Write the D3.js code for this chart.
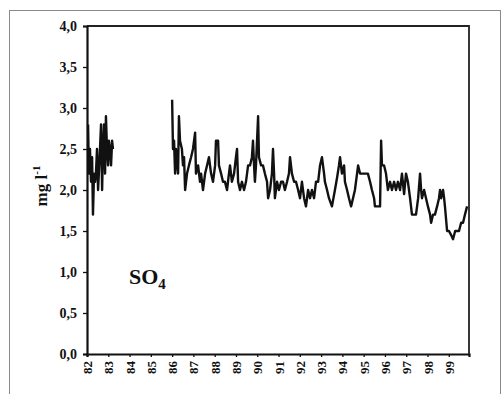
<!DOCTYPE html>
<html><head><meta charset="utf-8">
<script src="https://cdn.jsdelivr.net/npm/d3@7"></script>
<style>
html,body{margin:0;padding:0;background:#fff;}
svg{display:block;}
text{font-family:"Liberation Serif","Times New Roman",serif;font-weight:bold;fill:#111;}
</style></head>
<body>
<svg id="chart" width="502" height="394"></svg>
<script>
// ---- data ----
const yTicks = [0, 0.5, 1.0, 1.5, 2.0, 2.5, 3.0, 3.5, 4.0];
const xTickLabels = ["82","83","84","85","86","87","88","89","90","91","92","93","94","95","96","97","98","99"];
const seriesName = "SO";
const seriesSub = "4";

const years1 = [82.05,82.09,82.14,82.19,82.24,82.28,82.33,82.38,82.42,82.47,82.52,82.61,82.66,82.71,82.75,82.80,82.85,82.89,82.94,82.99,83.03,83.08,83.13,83.18,83.22];
const values1 = [2.8,2.2,2.5,2.1,2.4,1.7,2.2,2.1,2.2,2.5,2.0,2.5,2.8,2.0,2.5,2.8,2.2,2.9,2.5,2.3,2.6,2.5,2.3,2.6,2.5];

const years2 = [86.00,86.04,86.09,86.14,86.18,86.28,86.32,86.37,86.46,86.51,86.56,86.61,86.70,86.79,86.89,86.98,
87.08,87.12,87.22,87.31,87.36,87.45,87.55,87.64,87.73,87.83,87.92,
88.02,88.06,88.16,88.20,88.30,88.39,88.48,88.58,88.67,88.72,88.81,88.91,
89.00,89.05,89.10,89.19,89.28,89.38,89.47,89.57,89.66,89.75,89.80,89.85,89.89,89.94,
90.04,90.08,90.18,90.27,90.36,90.46,90.51,90.60,90.69,90.74,90.79,90.83,90.93,
91.02,91.12,91.21,91.30,91.40,91.49,91.54,91.63,91.73,91.82,91.92,
92.01,92.10,92.20,92.29,92.39,92.48,92.57,92.67,92.76,92.86,92.95,
93.04,93.14,93.18,93.28,93.37,93.51,93.65,93.75,93.84,93.89,93.98,
94.08,94.12,94.22,94.31,94.41,94.50,94.59,94.69,94.74,94.83,94.97,
95.11,95.20,95.30,95.39,95.49,95.53,95.63,95.72,95.77,95.82,95.86,95.96,
96.05,96.14,96.24,96.33,96.43,96.52,96.61,96.71,96.80,96.90,96.99,
97.08,97.18,97.27,97.37,97.46,97.56,97.65,97.70,97.74,97.84,97.93,
98.02,98.12,98.17,98.26,98.35,98.45,98.54,98.59,98.64,98.73,98.78,98.82,98.92,
99.01,99.11,99.20,99.30,99.39,99.48,99.58,99.67,99.76,99.86];
const values2 = [3.1,2.5,2.6,2.2,2.5,2.2,2.9,2.6,2.5,2.3,2.4,2.0,2.2,2.3,2.4,2.5,
2.7,2.2,2.3,2.1,2.2,2.0,2.2,2.3,2.4,2.2,2.1,
2.3,2.6,2.6,2.3,2.2,2.1,2.1,2.0,2.2,2.3,2.1,2.2,
2.4,2.5,2.1,2.0,2.1,2.0,2.1,2.3,2.3,2.4,2.6,2.3,2.1,2.3,
2.9,2.4,2.3,2.3,2.2,2.1,1.9,2.0,2.2,2.5,2.2,1.9,2.1,
2.0,2.1,2.1,2.0,2.1,2.2,2.4,2.2,2.1,2.1,2.0,
1.9,2.1,1.9,1.8,2.0,1.9,2.0,1.9,2.1,2.1,2.3,
2.4,2.2,2.1,2.0,1.9,1.8,2.0,2.15,2.3,2.4,2.2,
2.3,2.1,2.0,1.9,1.8,1.9,2.0,2.2,2.3,2.2,2.2,
2.2,2.2,2.1,2.0,1.9,1.8,1.8,1.8,1.8,2.6,2.3,2.3,
2.2,2.0,2.1,2.0,2.1,2.0,2.1,2.0,2.2,1.95,2.2,
2.1,1.9,1.7,1.7,1.7,1.9,2.2,2.0,1.9,2.0,1.9,
1.8,1.7,1.6,1.7,1.7,1.8,1.9,2.0,1.9,2.0,1.9,1.8,1.5,
1.5,1.45,1.4,1.5,1.5,1.5,1.6,1.6,1.7,1.8];

// ---- layout ----
const svg = d3.select("#chart");
const mLeft = 87, mRight = 469, mTop = 26, mBottom = 354;

const x = d3.scaleLinear().domain([82, 99.95]).range([mLeft, mRight]);
const y = d3.scaleLinear().domain([0, 4]).range([mBottom, mTop]);

// outer frame
svg.append("rect").attr("x", 9.5).attr("y", 10.5).attr("width", 491).attr("height", 390)
  .attr("fill", "none").attr("stroke", "#8a8a8a").attr("stroke-width", 1);

// plot frame (top/right)
svg.append("path")
  .attr("d", `M${mLeft},${mTop}H${mRight}V${mBottom}`)
  .attr("fill", "none").attr("stroke", "#222").attr("stroke-width", 1.8);

// y axis
const yAxis = d3.axisLeft(y).tickValues(yTicks).tickSize(4).tickPadding(6)
  .tickFormat(d => d3.format(".1f")(d).replace(".", ","));
const gy = svg.append("g").attr("transform", `translate(${mLeft},0)`).call(yAxis);
gy.select(".domain").attr("stroke", "#111").attr("stroke-width", 2.2);
gy.selectAll(".tick line").attr("stroke", "#111").attr("stroke-width", 1.3);
gy.selectAll("text").style("font-size", "14px").style("font-family", "'Liberation Serif',serif").style("font-weight", "bold").attr("fill", "#111");

// x axis
const xAxis = d3.axisBottom(x).tickValues(xTickLabels.map(Number)).tickSize(3).tickFormat(d => String(d));
const gx = svg.append("g").attr("transform", `translate(0,${mBottom})`).call(xAxis);
gx.select(".domain").attr("stroke", "#111").attr("stroke-width", 2.2);
gx.selectAll(".tick line").attr("stroke", "#111").attr("stroke-width", 1.3);
gx.selectAll("text")
  .style("font-size", "13px").style("font-family", "'Liberation Serif',serif").style("font-weight", "bold").attr("fill", "#111")
  .attr("transform", "rotate(-90)")
  .attr("text-anchor", "end")
  .attr("x", -7).attr("y", 0).attr("dy", "0.35em");

// lines
const line = d3.line().x(d => x(d[0])).y(d => y(d[1]));
const seg1 = years1.map((t, i) => [t, values1[i]]);
const seg2 = years2.map((t, i) => [t, values2[i]]);
[seg1, seg2].forEach(s => {
  svg.append("path").datum(s).attr("d", line)
    .attr("fill", "none").attr("stroke", "#111").attr("stroke-width", 2.4)
    .attr("stroke-linejoin", "round");
});

// y title
const yt = svg.append("text")
  .attr("transform", `translate(47,186) rotate(-90)`)
  .attr("text-anchor", "middle").style("font-size", "17px");
yt.append("tspan").text("mg l");
yt.append("tspan").attr("dy", -7).style("font-size", "11px").text("-1");

// series label
const sl = svg.append("text").attr("x", 129).attr("y", 284).style("font-size", "22px");
sl.append("tspan").text(seriesName);
sl.append("tspan").attr("dy", 5).style("font-size", "15px").text(seriesSub);
</script>
</body></html>
